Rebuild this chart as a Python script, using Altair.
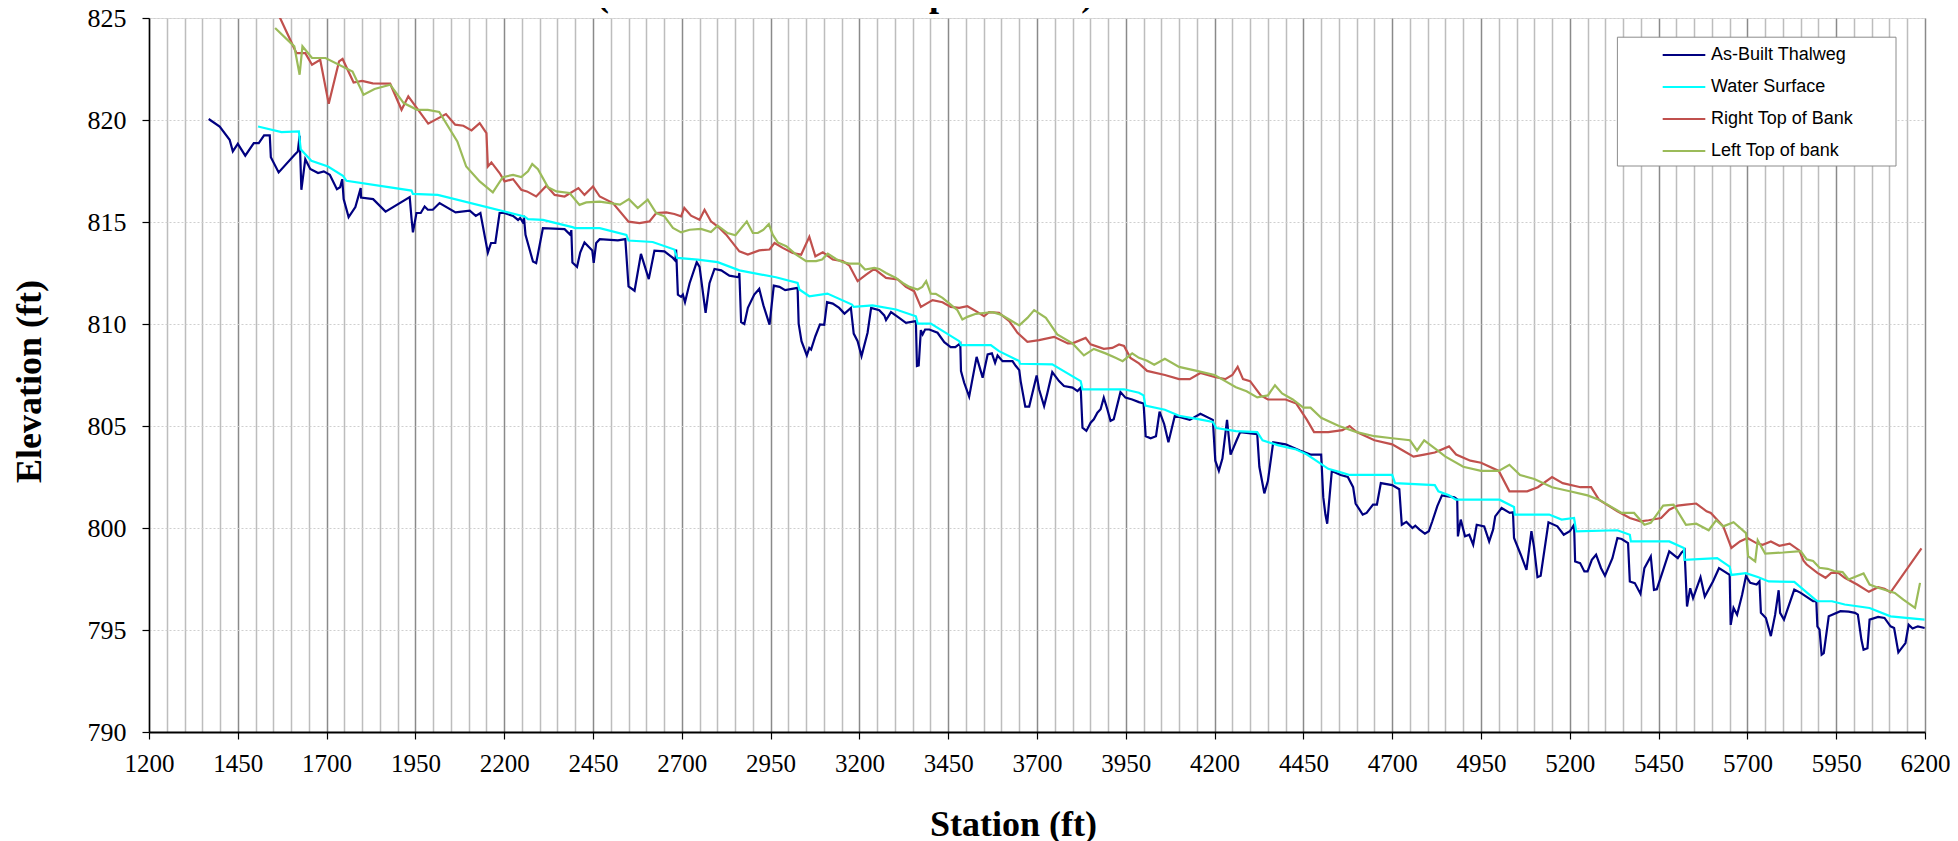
import altair as alt
import pandas as pd

# ---------------- data ----------------
thalweg_sta = [1368,1399,1427,1436,1450,1471,1495,1509,1524,1540,1543,1565,1610,1619,1624,1629,1640,1654,1676,1692,1709,1729,1738,1744,1748,1762,1781,1796,1797,1831,1866,1934,1939,1943,1953,1965,1976,1985,1999,2018,2063,2103,2120,2133,2154,2163,2175,2187,2200,2225,2239,2245,2252,2256,2260,2281,2290,2309,2370,2386,2389,2392,2405,2414,2426,2448,2452,2459,2469,2520,2541,2550,2567,2585,2607,2623,2651,2675,2682,2684,2689,2698,2703,2709,2722,2742,2750,2767,2778,2792,2811,2834,2860,2862,2867,2876,2886,2904,2918,2930,2947,2959,2975,2991,3026,3029,3037,3052,3059,3064,3076,3089,3101,3109,3125,3143,3158,3176,3184,3195,3206,3223,3233,3256,3270,3275,3289,3312,3331,3359,3362,3367,3373,3378,3385,3397,3420,3439,3457,3470,3484,3486,3495,3509,3530,3547,3561,3573,3582,3589,3603,3631,3640,3650,3654,3667,3678,3699,3706,3720,3729,3743,3762,3776,3800,3814,3823,3828,3839,3851,3860,3870,3879,3888,3898,3907,3916,3935,3949,3968,3987,4000,4006,4020,4035,4045,4058,4070,4088,4130,4160,4195,4202,4212,4222,4235,4245,4262,4272,4320,4326,4340,4350,4365,4400,4440,4470,4500,4506,4512,4517,4530,4555,4575,4590,4597,4617,4628,4646,4657,4668,4700,4720,4727,4740,4757,4765,4777,4792,4803,4813,4827,4840,4875,4883,4885,4893,4905,4917,4928,4938,4959,4973,4984,4990,5008,5031,5040,5043,5062,5078,5092,5099,5109,5118,5140,5165,5183,5200,5212,5215,5229,5241,5250,5262,5274,5288,5299,5320,5334,5346,5364,5369,5383,5399,5410,5428,5437,5445,5463,5480,5504,5515,5523,5530,5539,5547,5568,5580,5603,5620,5650,5653,5661,5671,5685,5696,5708,5726,5734,5738,5752,5766,5778,5788,5792,5803,5832,5850,5885,5894,5897,5903,5909,5915,5929,5962,5985,6003,6011,6021,6027,6038,6044,6068,6086,6103,6113,6125,6145,6154,6165,6180,6199]
thalweg_elev = [820.05,819.68,819.03,818.46,818.83,818.25,818.87,818.87,819.25,819.25,818.18,817.43,818.3,818.46,819.23,816.58,818.08,817.6,817.4,817.48,817.31,816.61,816.7,817.1,816.12,815.24,815.73,816.66,816.2,816.12,815.51,816.22,815.19,814.49,815.44,815.44,815.76,815.6,815.6,815.93,815.47,815.56,815.3,815.44,813.5,813.97,813.97,815.44,815.44,815.3,815.1,815.2,815.0,815.15,814.37,813.06,812.98,814.7,814.65,814.37,814.6,813.01,812.8,813.5,814.0,813.6,813.0,813.97,814.16,814.1,814.16,811.84,811.63,813.44,812.2,813.6,813.56,813.24,813.1,813.65,811.44,811.33,811.44,811.07,812.0,813.03,812.8,810.55,812.0,812.7,812.63,812.37,812.29,812.5,810.09,810.0,810.79,811.44,811.72,810.9,809.97,811.88,811.82,811.66,811.77,810.02,809.16,808.46,808.83,808.75,809.4,809.98,809.96,811.07,811.0,810.79,810.51,810.79,809.53,809.16,808.43,809.57,810.79,810.68,810.42,810.19,810.58,810.3,810.06,810.14,807.94,807.97,809.7,809.49,809.73,809.73,809.57,809.11,808.87,808.87,809.05,807.69,807.12,806.44,808.39,807.37,808.51,808.56,808.1,808.46,808.18,808.18,807.95,807.74,807.2,805.95,805.95,807.48,806.79,805.98,806.6,807.64,807.2,806.96,806.88,806.71,806.88,804.92,804.76,805.16,805.33,805.65,805.82,806.39,805.82,805.25,805.33,806.66,806.39,806.3,806.17,806.1,804.5,804.4,804.5,805.7,805.1,804.2,805.5,805.3,805.6,805.3,803.3,802.8,803.4,805.3,803.6,804.3,804.7,804.6,803.0,801.7,802.3,804.2,804.1,803.8,803.6,803.6,801.5,800.66,800.21,802.8,802.6,802.5,802.0,801.2,800.66,800.74,801.15,801.15,802.2,802.1,801.9,800.16,800.3,800.0,800.11,799.92,799.72,799.84,800.33,801.07,801.6,801.5,801.4,799.59,800.41,799.59,799.67,799.18,800.16,800.08,799.34,799.92,800.57,800.98,800.74,800.77,799.51,798.69,797.95,799.84,799.1,797.59,797.66,800.28,800.08,799.67,799.84,800.16,798.36,798.28,797.87,797.87,798.44,798.69,798.03,797.66,798.52,799.51,799.46,799.26,797.38,797.3,796.77,798.03,798.61,796.97,797.0,797.95,798.85,798.52,798.8,798.93,796.15,797.05,796.56,797.59,796.64,797.38,798.03,797.7,795.25,796.08,795.75,796.72,797.64,797.31,797.23,797.39,795.84,795.59,794.7,795.74,796.95,795.84,795.51,796.98,796.82,796.41,796.41,795.18,795.02,793.79,793.87,795.67,795.92,795.9,795.84,795.75,794.52,794.03,794.11,795.51,795.64,795.59,795.18,795.1,793.9,794.36,795.26,795.07,795.18,795.1]

water_sta = [1507,1573,1622,1627,1657,1704,1746,1756,1939,1943,2013,2257,2267,2309,2392,2400,2469,2544,2550,2618,2679,2687,2745,2801,2862,2965,3026,3031,3059,3110,3179,3184,3237,3303,3359,3364,3401,3481,3486,3570,3593,3650,3652,3743,3823,3828,3945,3987,4000,4005,4060,4100,4150,4195,4205,4260,4320,4335,4380,4430,4460,4490,4520,4560,4580,4700,4708,4820,4830,4860,4879,5002,5043,5045,5142,5177,5212,5218,5334,5369,5372,5480,5521,5523,5615,5650,5655,5696,5731,5760,5832,5891,5897,5938,5974,6044,6103,6199]
water_elev = [819.68,819.41,819.44,818.57,818.0,817.72,817.27,817.02,816.54,816.38,816.33,815.27,815.14,815.1,814.75,814.7,814.7,814.37,814.09,814.02,813.65,813.24,813.16,813.03,812.63,812.29,812.01,811.69,811.36,811.49,810.95,810.84,810.91,810.71,810.38,810.02,810.02,809.16,808.96,808.96,808.67,808.18,808.05,808.02,807.2,806.8,806.8,806.63,806.5,806.0,805.8,805.5,805.35,805.2,804.9,804.75,804.7,804.3,804.05,803.85,803.6,803.25,802.9,802.7,802.6,802.6,802.2,802.1,801.8,801.6,801.39,801.39,801.03,800.66,800.66,800.41,800.49,799.84,799.89,799.67,799.34,799.34,799.02,798.44,798.52,798.11,797.7,797.79,797.59,797.38,797.36,796.49,796.41,796.41,796.25,796.08,795.67,795.51]

right_sta = [1553,1615,1640,1659,1682,1706,1735,1745,1776,1800,1830,1879,1911,1930,1986,2036,2062,2085,2108,2131,2150,2154,2164,2187,2201,2225,2248,2264,2290,2319,2342,2370,2409,2426,2450,2469,2506,2550,2581,2609,2628,2656,2679,2698,2707,2726,2750,2764,2782,2806,2825,2862,2886,2918,2947,2961,2984,3012,3036,3059,3076,3097,3125,3153,3172,3195,3219,3242,3275,3308,3331,3354,3373,3406,3434,3457,3481,3504,3528,3551,3565,3593,3622,3645,3673,3706,3748,3787,3800,3837,3851,3888,3912,3931,3945,3963,3987,4010,4060,4100,4130,4160,4200,4230,4250,4265,4280,4300,4330,4350,4400,4430,4460,4480,4520,4560,4580,4600,4650,4700,4730,4760,4790,4820,4860,4880,4920,4950,5000,5030,5080,5110,5150,5180,5230,5260,5282,5334,5369,5399,5422,5457,5480,5504,5527,5556,5585,5597,5632,5655,5679,5700,5725,5743,5766,5790,5819,5846,5858,5867,5897,5920,5936,5956,5974,6009,6042,6068,6086,6103,6190]
right_elev = [825.6,823.28,823.28,822.71,822.95,820.8,822.87,822.99,821.84,821.92,821.8,821.78,820.5,821.16,819.82,820.29,819.77,819.72,819.49,819.85,819.36,817.72,817.92,817.4,816.99,817.1,816.58,816.5,816.25,816.78,816.33,816.25,816.66,816.33,816.74,816.25,815.93,815.02,814.95,815.03,815.44,815.47,815.39,815.28,815.69,815.31,815.11,815.6,815.03,814.71,814.38,813.56,813.4,813.61,813.65,813.97,813.73,813.48,813.4,814.27,813.32,813.52,813.16,813.08,812.86,812.1,812.42,812.7,812.26,812.18,811.82,811.61,810.84,811.17,811.07,810.84,810.79,810.87,810.63,810.38,810.58,810.55,810.14,809.57,809.13,809.21,809.37,809.05,809.05,809.32,809.0,808.78,808.83,809.0,808.92,808.34,808.07,807.7,807.5,807.3,807.3,807.6,807.4,807.3,807.5,807.9,807.3,807.2,806.5,806.3,806.3,806.1,805.3,804.7,804.7,804.8,805.0,804.7,804.3,804.1,803.8,803.5,803.6,803.7,804.0,803.6,803.3,803.2,802.8,801.8,801.8,802.0,802.5,802.2,802.0,802.0,801.39,800.82,800.49,800.33,800.38,800.49,800.9,801.1,801.15,801.2,800.82,800.74,800.08,799.02,799.34,799.51,799.26,799.18,799.34,799.13,799.23,798.9,798.4,798.21,797.8,797.56,797.8,797.8,797.56,797.23,796.87,797.1,797.02,796.85,799.0]

left_sta = [1555,1609,1624,1632,1659,1697,1773,1804,1835,1879,1917,1955,1985,2017,2068,2093,2131,2168,2196,2225,2248,2267,2279,2295,2323,2347,2384,2412,2431,2469,2526,2551,2576,2604,2628,2651,2675,2698,2722,2754,2782,2801,2829,2851,2883,2900,2914,2930,2945,2956,2970,2994,3022,3050,3078,3095,3111,3134,3153,3172,3200,3216,3242,3256,3275,3303,3322,3341,3364,3377,3388,3401,3415,3434,3457,3476,3490,3504,3528,3556,3575,3598,3622,3650,3673,3692,3725,3757,3800,3832,3860,3893,3921,3941,3968,3987,4010,4030,4060,4100,4150,4200,4230,4260,4290,4320,4350,4370,4390,4420,4450,4470,4500,4550,4600,4650,4700,4750,4770,4790,4820,4850,4900,4950,5000,5030,5060,5100,5150,5200,5250,5282,5346,5381,5410,5428,5463,5492,5527,5556,5591,5612,5632,5661,5696,5702,5722,5729,5750,5801,5850,5867,5885,5903,5926,5944,5968,5985,6027,6044,6068,6115,6139,6172,6186]
left_elev = [824.51,823.61,822.22,823.61,823.04,823.04,822.38,821.24,821.52,821.73,820.83,820.5,820.5,820.39,818.95,817.72,816.99,816.45,817.2,817.31,817.2,817.48,817.84,817.59,816.71,816.5,816.42,815.84,815.96,816.0,815.85,816.12,815.68,816.09,815.44,815.28,814.71,814.49,814.62,814.66,814.51,814.82,814.46,814.35,815.03,814.46,814.46,814.62,814.9,814.38,814.0,813.81,813.4,813.08,813.08,813.16,813.45,813.19,813.03,812.96,812.96,812.67,812.75,812.7,812.5,812.26,812.01,811.82,811.69,811.82,812.1,811.49,811.48,811.28,810.95,810.68,810.22,810.35,810.5,810.55,810.58,810.46,810.22,809.93,810.3,810.68,810.3,809.49,809.05,808.46,808.78,808.56,808.34,808.18,808.56,808.34,808.2,808.0,808.3,807.9,807.7,807.5,807.2,806.9,806.7,806.4,806.5,807.0,806.6,806.3,805.9,805.9,805.4,805.0,804.7,804.5,804.4,804.3,803.8,804.3,803.9,803.5,803.0,802.8,802.8,803.1,802.6,802.4,802.0,801.8,801.6,801.39,800.74,800.74,800.16,800.25,801.1,801.15,800.16,800.21,799.89,800.38,800.08,800.28,799.75,798.62,798.36,799.4,798.75,798.8,798.87,798.46,798.38,798.05,798.0,797.89,797.84,797.48,797.77,797.23,797.07,796.82,796.49,796.08,797.31]

series_names = ["As-Built Thalweg", "Water Surface", "Right Top of Bank", "Left Top of bank"]
series_colors = ["#000080", "#00FFFF", "#C0504D", "#9BBB59"]
series_widths = [2.2, 2.2, 1.8, 1.8]

x_ticks = list(range(1200, 6201, 50))
y_ticks = list(range(790, 826, 5))
title_text = "(Restoration Reach Upstream 1)"

# ---------------- build table ----------------
rows = []
for name, sta, elev in zip(series_names,
                           [thalweg_sta, water_sta, right_sta, left_sta],
                           [thalweg_elev, water_elev, right_elev, left_elev]):
    for i, (s, e) in enumerate(zip(sta, elev)):
        rows.append({"series": name, "station": s, "elev": e, "idx": i})
df = pd.DataFrame(rows)

W, H = 1776, 714
SERIF = "Liberation Serif"
MAJOR = "(datum.value - 1200) % 250 === 0"

x_axis = alt.Axis(
    values=x_ticks,
    labelExpr=MAJOR + " ? datum.label : ''",
    format="d",
    labelOverlap=False,
    labelFlush=False,
    labelFont=SERIF, labelFontSize=25, labelColor="black", labelPadding=12,
    tickSize=7, tickWidth=1.2,
    tickColor={"condition": {"test": MAJOR, "value": "#000000"}, "value": "rgba(0,0,0,0)"},
    grid=True, gridWidth=1.5,
    gridColor={"condition": {"test": MAJOR, "value": "#8a8a8a"}, "value": "#bdbdbd"},
    domainColor="black", domainWidth=2,
    title="Station (ft)", titleFont=SERIF, titleFontSize=36, titleFontWeight="bold",
    titleColor="black", titleBaseline="alphabetic", titleAlign="center",
    titleX=864, titleY=103,
)
y_axis = alt.Axis(
    values=y_ticks, format="d",
    labelFont=SERIF, labelFontSize=26, labelColor="black", labelPadding=16,
    tickSize=7, tickColor="black", tickWidth=1.2,
    grid=True, gridColor="#cfcfcf", gridDash=[2, 2], gridWidth=1,
    domainColor="black", domainWidth=1.5,
    title="Elevation (ft)", titleFont=SERIF, titleFontSize=36, titleFontWeight="bold",
    titleColor="black", titleBaseline="alphabetic", titleAlign="center",
    titleAngle=270, titleX=-109, titleY=363,
)

base = alt.Chart(df)

legend_frame = alt.Chart(pd.DataFrame({"k": [0]})).mark_rect(
    fill="white", stroke="#8c8c8c", strokeWidth=1
).encode(x=alt.value(1468.4), x2=alt.value(1747), y=alt.value(19.2), y2=alt.value(148))

lines = base.mark_line(clip=True).encode(
    x=alt.X("station:Q", scale=alt.Scale(domain=[1200, 6200], nice=False, zero=False), axis=x_axis),
    y=alt.Y("elev:Q", scale=alt.Scale(domain=[790, 825], nice=False, zero=False), axis=y_axis),
    color=alt.Color("series:N", scale=alt.Scale(domain=series_names, range=series_colors),
                    legend=alt.Legend(
                        orient="none", legendX=1523, legendY=25, title=None,
                        symbolType="M-2,0H2", symbolSize=454, symbolStrokeWidth=2.5,
                        symbolFillColor="rgba(0,0,0,0)",
                        labelFont="Liberation Sans", labelFontSize=18, labelColor="black",
                        labelOffset=15, rowPadding=11, padding=0, strokeColor="rgba(0,0,0,0)",
                    )),
    strokeWidth=alt.StrokeWidth("series:N", scale=alt.Scale(domain=series_names, range=series_widths), legend=None),
    order=alt.Order("idx:Q"),
    detail="series:N",
)

title_mark = alt.Chart(pd.DataFrame({"t": [title_text]})).mark_text(
    align="left", baseline="alphabetic", font=SERIF, fontSize=36, fontWeight="bold", color="black"
).encode(x=alt.value(448), y=alt.value(-12), text="t:N")

chart = alt.layer(lines, legend_frame, title_mark).properties(
    width=W, height=H,
    autosize=alt.AutoSizeParams(type="none"),
    padding={"left": 141, "top": 10, "right": 25, "bottom": 110},
).configure_view(stroke="#8c8c8c", strokeWidth=2).configure(background="white")

chart.save("out.html", embed_options={"renderer": "svg", "actions": False})
